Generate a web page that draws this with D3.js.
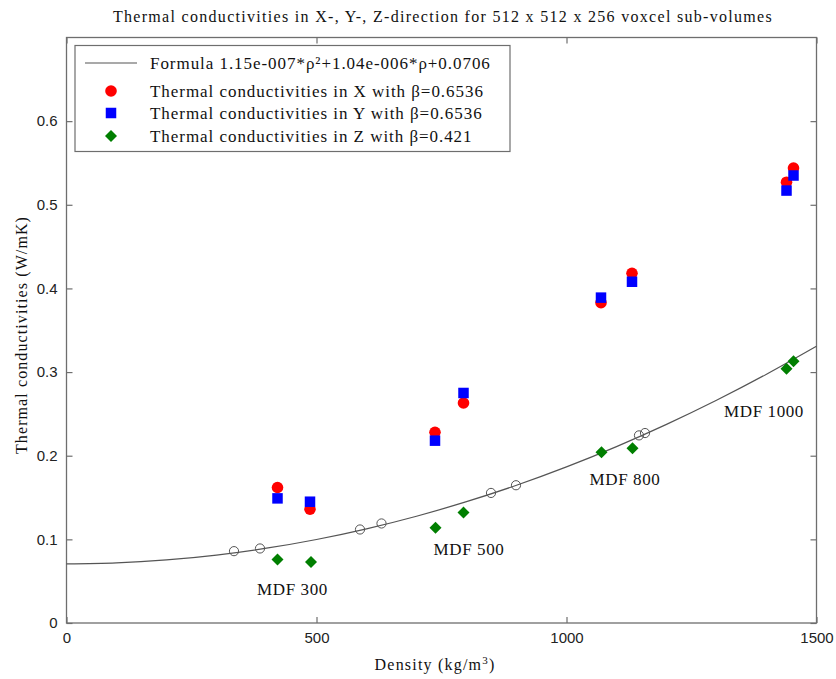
<!DOCTYPE html>
<html><head><meta charset="utf-8">
<script src="https://cdn.jsdelivr.net/npm/d3@7"></script>
<style>body{margin:0;background:#fff}svg{display:block}</style>
</head><body>
<svg id="c" width="836" height="679"></svg>
<script>
// ---- data ----
const xTicks = [0, 500, 1000, 1500];
const yTicks = [0, 0.1, 0.2, 0.3, 0.4, 0.5, 0.6];
const xDensity = [422, 487, 737, 794, 1069, 1131, 1440, 1454];
const xValues  = [0.162, 0.136, 0.228, 0.263, 0.383, 0.418, 0.527, 0.544];
const yDensity = [422, 487, 737, 794, 1069, 1131, 1440, 1454];
const yValues  = [0.149, 0.145, 0.218, 0.275, 0.389, 0.408, 0.517, 0.535];
const zDensity = [422, 489, 738, 794, 1070, 1132, 1440, 1454];
const zValues  = [0.076, 0.073, 0.114, 0.132, 0.204, 0.209, 0.304, 0.313];
const sampleDensity = [335, 387, 587, 630, 849, 899, 1145, 1157];
const sampleValues  = [0.0859, 0.0891, 0.1118, 0.119, 0.1555, 0.1647, 0.2243, 0.2271];
const fitDensity = [0,100,200,300,400,500,600,700,800,900,1000,1100,1200,1300,1400,1500];
const fitValues  = [0.0706,0.07185,0.07541,0.08126,0.08942,0.09987,0.11262,0.12768,0.14503,0.16469,0.18664,0.21089,0.23745,0.2663,0.29746,0.33091];
const groupLabels = ["MDF 300","MDF 500","MDF 800","MDF 1000"];
const groupLabelPos = [[452,0.034],[805,0.081],[1117,0.165],[1395,0.246]];
const legendLabels = [
  "Formula 1.15e-007*ρ²+1.04e-006*ρ+0.0706",
  "Thermal conductivities in X with β=0.6536",
  "Thermal conductivities in Y with β=0.6536",
  "Thermal conductivities in Z with β=0.421"
];

// ---- layout ----
const svg = d3.select("#c");
const L = 66.5, R = 816.5, T = 37.5, B = 623;
const x = d3.scaleLinear().domain([0,1500]).range([L,R]);
const y = d3.scaleLinear().domain([0,0.7]).range([B,T]);
const serif = "'Liberation Serif','Times New Roman',serif";
const sans = "'Liberation Sans',Arial,sans-serif";
const axisCol = "#6e6e6e";

// frame
svg.append("rect").attr("x",L).attr("y",T).attr("width",R-L).attr("height",B-T)
  .attr("fill","none").attr("stroke",axisCol).attr("stroke-width",1.3);

// axes with inward ticks
const gxB = svg.append("g").attr("transform",`translate(0,${B})`)
  .call(d3.axisBottom(x).tickValues(xTicks).tickFormat(d3.format("d")).tickSizeInner(-6).tickSizeOuter(0).tickPadding(9));
const gxT = svg.append("g").attr("transform",`translate(0,${T})`)
  .call(d3.axisTop(x).tickValues(xTicks).tickFormat("").tickSizeInner(-6).tickSizeOuter(0));
const gyL = svg.append("g").attr("transform",`translate(${L},0)`)
  .call(d3.axisLeft(y).tickValues(yTicks).tickFormat(d=>d===0?"0":d3.format(".1f")(d)).tickSizeInner(-6).tickSizeOuter(0).tickPadding(9));
const gyR = svg.append("g").attr("transform",`translate(${R},0)`)
  .call(d3.axisRight(y).tickValues(yTicks).tickFormat("").tickSizeInner(-6).tickSizeOuter(0));
[gxB,gxT,gyL,gyR].forEach(g=>{
  g.select(".domain").remove();
  g.selectAll(".tick line").attr("stroke",axisCol).attr("stroke-width",1.2);
  g.selectAll("text").attr("font-family",sans).attr("font-size",15).attr("fill","#222");
});

// fit curve
const line = d3.line().x((d,i)=>x(fitDensity[i])).y((d,i)=>y(fitValues[i])).curve(d3.curveNatural);
svg.append("path").datum(fitValues).attr("d",line).attr("fill","none").attr("stroke","#555").attr("stroke-width",1.2);

// sample circles
svg.selectAll(".s").data(sampleValues).join("circle")
  .attr("cx",(d,i)=>x(sampleDensity[i])).attr("cy",d=>y(d)).attr("r",4.6)
  .attr("fill","none").attr("stroke","#555").attr("stroke-width",1);

// X red circles
svg.selectAll(".xr").data(xValues).join("circle")
  .attr("cx",(d,i)=>x(xDensity[i])).attr("cy",d=>y(d)).attr("r",5.8).attr("fill","#ff0000");
// Y blue squares
const sq = 10.5;
svg.selectAll(".yb").data(yValues).join("rect")
  .attr("x",(d,i)=>x(yDensity[i])-sq/2).attr("y",d=>y(d)-sq/2).attr("width",sq).attr("height",sq).attr("fill","#0000ff");
// Z green diamonds
const dm = d3.symbol().type(d3.symbolSquare).size(72);
svg.selectAll(".zg").data(zValues).join("path")
  .attr("d",dm).attr("fill","#007f00")
  .attr("transform",(d,i)=>`translate(${x(zDensity[i])},${y(d)}) rotate(45)`);

// group labels
svg.selectAll(".gl").data(groupLabels).join("text")
  .attr("x",(d,i)=>x(groupLabelPos[i][0])).attr("y",(d,i)=>y(groupLabelPos[i][1]))
  .attr("text-anchor","middle").attr("font-family",serif).attr("font-size",17)
  .attr("letter-spacing",0.6).attr("fill","#111").text(d=>d);

// title & labels
svg.append("text").attr("x",443).attr("y",22).attr("text-anchor","middle")
  .attr("font-family",serif).attr("font-size",16).attr("letter-spacing",1.3).attr("fill","#111")
  .text("Thermal conductivities in X-, Y-, Z-direction for 512 x 512 x 256 voxcel sub-volumes");
const xl = svg.append("text").attr("x",435).attr("y",670).attr("text-anchor","middle")
  .attr("font-family",serif).attr("font-size",16).attr("letter-spacing",1.2).attr("fill","#111");
xl.append("tspan").text("Density (kg/m");
xl.append("tspan").attr("font-size",11).attr("dy",-6).text("3");
xl.append("tspan").attr("dy",6).text(")");
svg.append("text").attr("transform","translate(27,335) rotate(-90)").attr("text-anchor","middle")
  .attr("font-family",serif).attr("font-size",16).attr("letter-spacing",1.1).attr("fill","#111")
  .text("Thermal conductivities (W/mK)");

// legend
const lg = svg.append("g");
lg.append("rect").attr("x",75).attr("y",45.5).attr("width",435).attr("height",106)
  .attr("fill","#fff").attr("stroke",axisCol).attr("stroke-width",1.2);
const rowY = [63, 91, 113, 136];
lg.append("line").attr("x1",85).attr("x2",137).attr("y1",rowY[0]).attr("y2",rowY[0]).attr("stroke","#555").attr("stroke-width",1.2);
lg.append("circle").attr("cx",111).attr("cy",rowY[1]).attr("r",5.8).attr("fill","#ff0000");
lg.append("rect").attr("x",111-sq/2).attr("y",rowY[2]-sq/2).attr("width",sq).attr("height",sq).attr("fill","#0000ff");
lg.append("path").attr("d",dm).attr("fill","#007f00").attr("transform",`translate(111,${rowY[3]}) rotate(45)`);
lg.selectAll(".lt").data(legendLabels).join("text")
  .attr("x",150).attr("y",(d,i)=>rowY[i]+6).attr("font-family",serif).attr("font-size",17)
  .attr("letter-spacing",0.95).attr("fill","#111")
  .text(d=>d);
</script>
</body></html>
